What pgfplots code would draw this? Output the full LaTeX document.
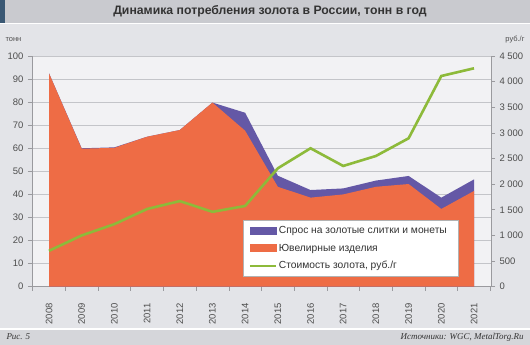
\documentclass[border=0pt]{standalone}
\usepackage{pgfplots}
\pgfplotsset{compat=1.18}
\usepackage{fontspec}
\setmainfont{Liberation Sans}
\newfontfamily\serifit{Liberation Serif}
\definecolor{bgc}{HTML}{E3E4E8}
\definecolor{plotbg}{HTML}{F2F2F4}
\definecolor{titlebar}{HTML}{C9CACF}
\definecolor{stripc}{HTML}{3A5874}
\definecolor{botbar}{HTML}{D5D6DA}
\definecolor{orng}{HTML}{EE6C45}
\definecolor{purp}{HTML}{6458A6}
\definecolor{grn}{HTML}{8DBA3A}
\definecolor{gridc}{HTML}{C4C5C9}
\definecolor{txt}{HTML}{4D4D4D}
\definecolor{axc}{HTML}{9A9A9E}
\begin{document}
\begin{tikzpicture}
% backgrounds
\fill[bgc] (0bp,0bp) rectangle (530bp,345bp);
\fill[titlebar] (0bp,322bp) rectangle (530bp,345bp);
\fill[white] (0bp,320.5bp) rectangle (530bp,322bp);
\fill[stripc] (0bp,322bp) rectangle (5bp,345bp);
\fill[white] (0bp,15bp) rectangle (530bp,17bp);
\fill[botbar] (0bp,0bp) rectangle (530bp,15bp);
\node[font=\bfseries\fontsize{12.3}{14}\selectfont, text=black!80] at (270bp,333.5bp) {Динамика потребления золота в России, тонн в год};
\node[font=\serifit\itshape\fontsize{9}{10}\selectfont, text=black!80, anchor=west] at (3bp,8bp) {Рис. 5};
\node[font=\serifit\itshape\fontsize{9}{10}\selectfont, text=black!80, anchor=east] at (527bp,8bp) {Источники: WGC, MetalTorg.Ru};
\node[font=\fontsize{7.5}{8}\selectfont, text=txt, anchor=west] at (2bp,305bp) {тонн};
\node[font=\fontsize{7.5}{8}\selectfont, text=txt, anchor=east] at (528bp,305bp) {руб./г};
\begin{axis}[
  at={(32bp,58.3bp)}, anchor=south west,
  scale only axis, width=459bp, height=230.7bp,
  xmin=-0.52, xmax=13.52, ymin=0, ymax=100,
  axis background/.style={fill=plotbg},
  axis x line=bottom, axis y line=left,
  axis line style={-, draw=axc, line width=0.6bp},
  ytick={0,10,...,100},
  ymajorgrids, grid style={gridc, line width=0.8bp},
  xtick={0,...,13},
  xticklabels={2008,2009,2010,2011,2012,2013,2014,2015,2016,2017,2018,2019,2020,2021},
  minor xtick={-0.5,0.5,...,13.5},
  major x tick style={draw=none},
  minor x tick style={draw=axc, line width=0.6bp},
  minor tick length=4bp, major tick length=4bp,
  tick align=outside,
  y tick style={draw=axc, line width=0.6bp},
  xticklabel shift=9bp,
  xticklabel style={rotate=90, anchor=east, font=\fontsize{9.5}{10}\selectfont, text=txt},
  yticklabel style={font=\fontsize{9.5}{10}\selectfont, text=txt, xshift=-1bp},
  /pgf/number format/assume math mode=true,
  clip=false,
]
\addplot[fill=purp, draw=none] coordinates {(0,92.5)(1,60.0)(2,60.4)(3,65.0)(4,67.9)(5,79.8)(6,75.4)(7,48.1)(8,41.9)(9,42.6)(10,46.0)(11,48.0)(12,38.6)(13,46.5)} \closedcycle;
\addplot[fill=orng, draw=none] coordinates {(0,92.5)(1,59.8)(2,60.2)(3,65.0)(4,67.9)(5,79.8)(6,67.6)(7,43.3)(8,38.6)(9,40.0)(10,43.3)(11,44.5)(12,33.7)(13,41.5)} \closedcycle;
\end{axis}
\begin{axis}[
  at={(32bp,58.3bp)}, anchor=south west,
  scale only axis, width=459bp, height=230.7bp,
  xmin=-0.52, xmax=13.52, ymin=0, ymax=4500,
  axis x line=none, axis y line=right,
  axis line style={-, draw=axc, line width=0.6bp},
  ytick={0,500,...,4500},
  scaled y ticks=false,
  tick align=outside, major tick length=4bp,
  y tick style={draw=axc, line width=0.6bp},
  yticklabel style={font=\fontsize{9.5}{10}\selectfont, text=txt, xshift=1bp},
  /pgf/number format/.cd, assume math mode=true, 1000 sep={\ },
  /pgfplots/.cd,
  legend style={at={(0.459,0.289)}, anchor=north west, draw=gray!60, fill=white,
    font=\fontsize{10.3}{12}\selectfont, text=black!80, inner xsep=6bp, inner ysep=4.5bp, row sep=4.5bp},
  legend cell align=left,
]
\addlegendimage{legend image code/.code={\fill[purp] (0bp,-3.5bp) rectangle (26bp,3.5bp);}}
\addlegendentry{Спрос на золотые слитки и монеты\hspace*{3bp}}
\addlegendimage{legend image code/.code={\fill[orng] (0bp,-3.5bp) rectangle (26bp,3.5bp);}}
\addlegendentry{Ювелирные изделия}
\addplot[grn, line width=2.6bp, legend image code/.code={\draw[grn, line width=2bp] (0bp,0bp) -- (26bp,0bp);}] coordinates {(0,700)(1,1000)(2,1220)(3,1515)(4,1670)(5,1460)(6,1575)(7,2310)(8,2700)(9,2355)(10,2550)(11,2895)(12,4110)(13,4260)};
\addlegendentry{Стоимость золота, руб./г}
\end{axis}
\end{tikzpicture}
\end{document}
